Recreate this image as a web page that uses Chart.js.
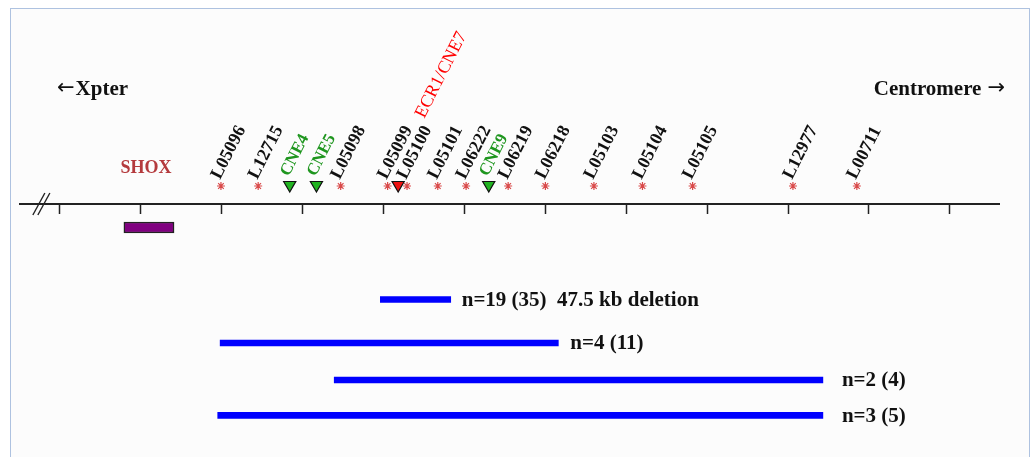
<!DOCTYPE html>
<html>
<head>
<meta charset="utf-8">
<script src="https://cdn.jsdelivr.net/npm/chart.js@4.4.1/dist/chart.umd.min.js"></script>
<style>
    body { margin: 0; background: #ffffff; }
    #frame {
        position: absolute; left: 10px; top: 8px; width: 1018px; height: 460px;
        border: 1px solid #aec2e0; border-bottom: none; background: #fcfcfc;
    }
    #wrap { position: absolute; left: 0; top: 0; width: 1032px; height: 457px; }
</style>
</head>
<body>
<div id="frame"></div>
<div id="wrap"><canvas id="map-chart" width="1032" height="457"></canvas></div>
<script>
// positions along the map, in tick units (one tick = one step)
const tickValues = [0, 1, 2, 3, 4, 5, 6, 7, 8, 9, 10, 11];

const markerNames = ['L05096', 'L12715', 'L05098', 'L05099', 'L05100', 'L05101', 'L06222',
    'L06219', 'L06218', 'L05103', 'L05104', 'L05105', 'L12977', 'L00711'];
const markerPos = [1.99, 2.45, 3.47, 4.05, 4.29, 4.67, 5.02, 5.54, 6.00, 6.60, 7.20, 7.82, 9.06, 9.85];

const cneNames = ['CNE4', 'CNE5', 'ECR1/CNE7', 'CNE9'];
const cnePos = [2.84, 3.17, 4.18, 5.30];

const geneName = 'SHOX';
const geneStart = 0.79;
const geneEnd = 1.41;

const deletionStart = [3.96, 1.98, 3.39, 1.95];
const deletionEnd = [4.83, 6.16, 9.43, 9.43];
const deletionLabels = ['n=19 (35)  47.5 kb deletion', 'n=4 (11)', 'n=2 (4)', 'n=3 (5)'];

// layout (pixel rows, y scale is matched to canvas pixels)
const rowAxis = 204;
const rowMarker = 186;
const rowCne = 185;
const rowGene = 227.5;
const rowDeletion = [299.5, 343, 380, 415.3];
const deletionLabelGap = [11, 12, 19, 19];
const labelAngle = -63 * Math.PI / 180;
const serif = '"Liberation Serif", "Times New Roman", serif';

function cneColor(name) {
    return name === 'ECR1/CNE7' ? '#ee1111' : '#22b422';
}

const labelPlugin = {
    id: 'mapLabels',
    afterDatasetsDraw(chart) {
        const ctx = chart.ctx;
        const xs = chart.scales.x;
        const ys = chart.scales.y;

        ctx.save();
        // break mark on the axis
        const bx = xs.getPixelForValue(-0.23);
        const by = ys.getPixelForValue(rowAxis);
        ctx.strokeStyle = '#222';
        ctx.lineWidth = 1.4;
        [-2.5, 2.5].forEach(off => {
            ctx.beginPath();
            ctx.moveTo(bx + off - 6, by + 11);
            ctx.lineTo(bx + off + 6, by - 11);
            ctx.stroke();
        });

        // marker labels
        ctx.textAlign = 'left';
        ctx.textBaseline = 'alphabetic';
        ctx.font = 'bold 18px ' + serif;
        ctx.fillStyle = '#111';
        markerNames.forEach((name, i) => {
            ctx.save();
            ctx.translate(xs.getPixelForValue(markerPos[i]) - 1, ys.getPixelForValue(180));
            ctx.rotate(labelAngle);
            ctx.fillText(name, 0, 0);
            ctx.restore();
        });

        cneNames.forEach((name, i) => {
            const big = name === 'ECR1/CNE7';
            ctx.save();
            ctx.fillStyle = big ? '#ff0000' : '#1f961f';
            ctx.font = big ? '18px ' + serif : 'bold 17px ' + serif;
            ctx.translate(xs.getPixelForValue(cnePos[i]) + (big ? 26 : -1), ys.getPixelForValue(big ? 119 : 177));
            ctx.rotate(labelAngle);
            ctx.fillText(name, 0, 0);
            ctx.restore();
        });

        // gene name
        ctx.font = 'bold 18px ' + serif;
        ctx.fillStyle = '#b43a3d';
        ctx.textAlign = 'center';
        ctx.fillText(geneName, (xs.getPixelForValue(geneStart) + xs.getPixelForValue(geneEnd)) / 2 - 3, ys.getPixelForValue(173));

        // deletion labels
        ctx.font = 'bold 21px ' + serif;
        ctx.fillStyle = '#111';
        ctx.textAlign = 'left';
        ctx.textBaseline = 'middle';
        deletionLabels.forEach((txt, i) => {
            ctx.fillText(txt, xs.getPixelForValue(deletionEnd[i]) + deletionLabelGap[i], ys.getPixelForValue(rowDeletion[i]) + 1);
        });

        // orientation
        ctx.textBaseline = 'alphabetic';
        ctx.font = '21px "DejaVu Sans", sans-serif';
        const arrowW = ctx.measureText('\u2190').width;
        ctx.textAlign = 'left';
        ctx.fillText('\u2190', 57, 94);
        ctx.textAlign = 'right';
        ctx.fillText('\u2192', 1005, 94);
        ctx.font = 'bold 21px ' + serif;
        ctx.textAlign = 'left';
        ctx.fillText('Xpter', 57 + arrowW + 1, 95);
        ctx.textAlign = 'right';
        ctx.fillText('Centromere', 1005 - arrowW - 6, 95);
        ctx.restore();
    }
};

const ctx = document.getElementById('map-chart').getContext('2d');
const mapChart = new Chart(ctx, {
    data: {
        datasets: [
            {
                type: 'bar',
                indexAxis: 'y',
                grouped: false,
                data: [{ x: [geneStart, geneEnd], y: rowGene }],
                backgroundColor: '#800080',
                borderColor: '#222',
                borderWidth: 1.5,
                borderSkipped: false,
                barThickness: 11
            },
            {
                type: 'bar',
                indexAxis: 'y',
                grouped: false,
                data: deletionStart.map((s, i) => ({ x: [s, deletionEnd[i]], y: rowDeletion[i] })),
                backgroundColor: '#0000ff',
                borderWidth: 0,
                barThickness: 6
            },
            {
                type: 'scatter',
                data: markerPos.map(p => ({ x: p, y: rowMarker })),
                pointStyle: 'star',
                pointRadius: 4,
                pointBorderColor: '#d94a4a',
                pointBorderWidth: 1.2
            },
            {
                type: 'scatter',
                data: cnePos.map(p => ({ x: p, y: rowCne })),
                pointStyle: 'triangle',
                pointRotation: 180,
                pointRadius: 7,
                pointBackgroundColor: cneNames.map(cneColor),
                pointBorderColor: '#111',
                pointBorderWidth: 1.2
            }
        ]
    },
    options: {
        responsive: false,
        animation: false,
        devicePixelRatio: 1,
        layout: { padding: { left: 20, right: 33, top: 0, bottom: 0 } },
        plugins: { legend: { display: false }, tooltip: { enabled: false } },
        scales: {
            x: {
                type: 'linear',
                axis: 'x',
                position: { y: rowAxis },
                min: -0.494,
                max: 11.607,
                afterBuildTicks: scale => { scale.ticks = tickValues.map(v => ({ value: v })); },
                ticks: { display: false },
                grid: { drawOnChartArea: false, drawTicks: true, tickLength: 9, tickWidth: 1.5, tickColor: '#222' },
                border: { color: '#222', width: 2 }
            },
            y: {
                type: 'linear',
                display: false,
                reverse: true,
                offset: false,
                min: 0,
                max: 457
            }
        }
    },
    plugins: [labelPlugin]
});

// make y values equal canvas pixels
const area = mapChart.chartArea;
mapChart.options.scales.y.min = area.top;
mapChart.options.scales.y.max = area.bottom;
mapChart.update();
</script>
</body>
</html>
